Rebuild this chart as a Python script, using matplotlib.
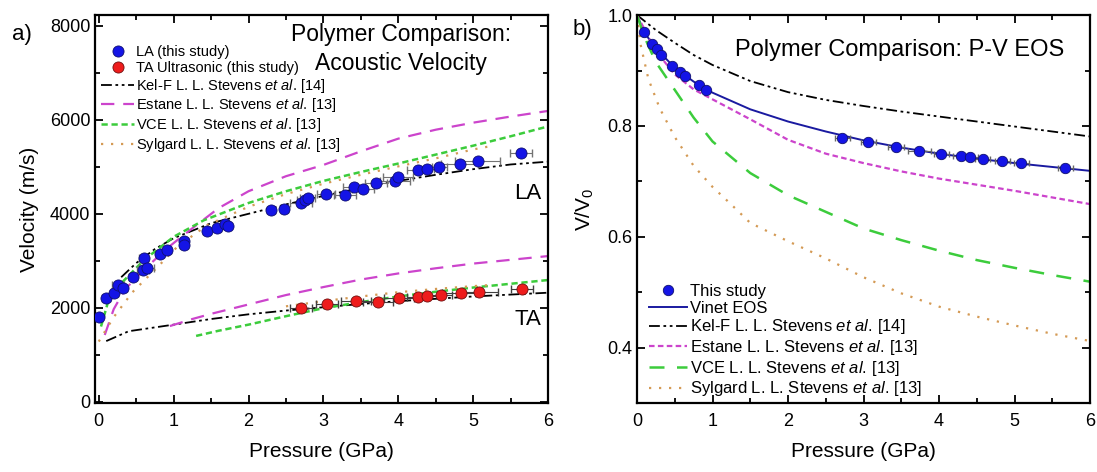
import numpy as np
import matplotlib
matplotlib.use("Agg")
import matplotlib.pyplot as plt
from matplotlib.ticker import MultipleLocator

plt.rcParams['font.family'] = ['Liberation Sans', 'DejaVu Sans']
plt.rcParams['mathtext.fontset'] = 'custom'
plt.rcParams['mathtext.rm'] = 'Liberation Sans'
plt.rcParams['mathtext.it'] = 'Liberation Sans:italic'

###################
# Data (read off) #
###################

# a) acoustic velocity, this study
la_p = [0.0, 0.10, 0.21, 0.26, 0.33, 0.46, 0.59, 0.60, 0.64, 0.82, 0.91, 1.14, 1.14,
        1.44, 1.58, 1.68, 1.72, 2.30, 2.48, 2.70, 2.75, 2.79, 3.04, 3.29, 3.41, 3.53,
        3.70, 3.95, 4.00, 4.26, 4.38, 4.55, 4.82, 5.06, 5.64]
la_v = [1800, 2205, 2310, 2490, 2420, 2650, 2795, 3060, 2845, 3150, 3220, 3430, 3340,
        3640, 3695, 3790, 3745, 4085, 4105, 4240, 4300, 4335, 4420, 4400, 4560, 4530,
        4650, 4690, 4780, 4930, 4945, 4990, 5070, 5130, 5290]
la_perr = [0.03, 0.05, 0.05, 0.08, 0.05, 0.05, 0.08, 0.06, 0.1, 0.05, 0.05, 0.05, 0.05,
           0.05, 0.05, 0.05, 0.05, 0.05, 0.05, 0.15, 0.1, 0.1, 0.12, 0.15, 0.15, 0.15,
           0.15, 0.2, 0.2, 0.15, 0.1, 0.1, 0.25, 0.3, 0.15]

ta_p = [2.70, 3.05, 3.43, 3.73, 4.01, 4.26, 4.39, 4.57, 4.84, 5.08, 5.65]
ta_v = [2000, 2070, 2140, 2130, 2200, 2235, 2255, 2270, 2320, 2340, 2400]
ta_perr = [0.15, 0.15, 0.2, 0.2, 0.2, 0.15, 0.15, 0.15, 0.25, 0.25, 0.15]

# literature curves, velocity (m/s)
kelf_la_p = [0.3, 0.5, 0.75, 1.0, 1.5, 2.0, 2.5, 3.0, 3.5, 4.0, 4.5, 5.0, 5.5, 6.0]
kelf_la_v = [2650, 2950, 3250, 3480, 3800, 4000, 4200, 4380, 4550, 4700, 4830, 4950, 5050, 5110]
kelf_ta_p = [0.1, 0.4, 1.0, 1.5, 2.0, 2.5, 3.0, 3.5, 4.0, 4.5, 5.0, 5.5, 6.0]
kelf_ta_v = [1290, 1500, 1640, 1760, 1860, 1940, 2010, 2080, 2140, 2190, 2240, 2280, 2320]

estane_la_p = [0.08, 0.2, 0.35, 0.6, 0.9, 1.2, 1.6, 2.0, 2.5, 3.0, 3.5, 4.0, 4.5, 5.0, 5.5, 6.0]
estane_la_v = [1420, 1970, 2390, 2800, 3250, 3630, 4120, 4480, 4800, 5040, 5330, 5600, 5790, 5940, 6070, 6190]
estane_ta_p = [0.95, 1.25, 1.5, 2.0, 2.5, 3.0, 3.5, 4.0, 4.5, 5.0, 5.5, 6.0]
estane_ta_v = [1610, 1760, 1870, 2070, 2270, 2440, 2600, 2730, 2840, 2940, 3020, 3100]

vce_la_p = [0.03, 0.12, 0.3, 0.6, 1.0, 1.4, 2.0, 2.5, 3.0, 3.5, 4.0, 4.5, 5.0, 5.5, 6.0]
vce_la_v = [1600, 2100, 2520, 3010, 3510, 3860, 4230, 4480, 4700, 4890, 5070, 5260, 5450, 5650, 5860]
vce_ta_p = [1.3, 1.6, 2.0, 2.5, 3.0, 3.5, 4.0, 4.5, 5.0, 5.5, 6.0]
vce_ta_v = [1400, 1510, 1640, 1820, 1990, 2120, 2240, 2340, 2430, 2510, 2590]

sylgard_la_p = [0.0, 0.2, 0.45, 0.75, 1.05, 1.45, 2.0, 2.5, 3.0, 3.5, 4.0, 4.5, 5.0, 5.2]
sylgard_la_v = [1280, 1800, 2330, 2810, 3300, 3760, 4150, 4420, 4640, 4830, 5010, 5180, 5370, 5430]
sylgard_ta_p = [2.5, 3.0, 3.5, 4.0, 4.5, 5.0, 5.2]
sylgard_ta_v = [2030, 2140, 2240, 2330, 2400, 2460, 2480]

# b) P-V EOS, this study
pv_p = [0.09, 0.20, 0.26, 0.32, 0.46, 0.57, 0.63, 0.82, 0.92, 2.72, 3.06, 3.43, 3.74,
        4.03, 4.29, 4.41, 4.58, 4.84, 5.09, 5.67]
pv_v = [0.970, 0.948, 0.938, 0.928, 0.909, 0.898, 0.891, 0.873, 0.865, 0.778, 0.771,
        0.762, 0.755, 0.750, 0.745, 0.744, 0.740, 0.736, 0.733, 0.724]
pv_perr = [0.02, 0.02, 0.02, 0.02, 0.02, 0.02, 0.02, 0.02, 0.02, 0.1, 0.1, 0.1, 0.15,
           0.1, 0.1, 0.1, 0.1, 0.1, 0.1, 0.1]

vinet_p = [0.0, 0.1, 0.25, 0.5, 0.75, 1.0, 1.5, 2.0, 2.5, 3.0, 3.5, 4.0, 4.5, 5.0, 5.5, 6.0]
vinet_v = [1.0, 0.968, 0.940, 0.905, 0.880, 0.860, 0.830, 0.808, 0.790, 0.774, 0.761,
           0.750, 0.741, 0.733, 0.726, 0.719]

kelf_pv_p = [0.0, 0.25, 0.5, 0.75, 1.0, 1.5, 2.0, 2.5, 3.0, 3.5, 4.0, 4.5, 5.0, 5.5, 6.0]
kelf_pv_v = [1.0, 0.973, 0.950, 0.928, 0.910, 0.881, 0.861, 0.847, 0.836, 0.826, 0.817,
             0.808, 0.799, 0.790, 0.781]
estane_pv_p = [0.0, 0.25, 0.5, 0.75, 1.0, 1.5, 2.0, 2.5, 3.0, 3.5, 4.0, 4.5, 5.0, 5.5, 6.0]
estane_pv_v = [1.0, 0.935, 0.893, 0.866, 0.848, 0.812, 0.775, 0.750, 0.733, 0.718, 0.705,
               0.694, 0.683, 0.671, 0.659]
vce_pv_p = [0.0, 0.1, 0.25, 0.5, 0.75, 1.0, 1.5, 2.0, 2.5, 3.0, 3.5, 4.0, 4.5, 5.0, 5.5, 6.0]
vce_pv_v = [1.0, 0.960, 0.915, 0.865, 0.815, 0.772, 0.715, 0.675, 0.645, 0.615, 0.594,
            0.575, 0.558, 0.544, 0.531, 0.519]
sylgard_pv_p = [0.0, 0.05, 0.15, 0.3, 0.5, 0.75, 1.0, 1.25, 1.5, 2.0, 2.5, 3.0, 3.5, 4.0,
                4.5, 5.0, 5.5, 6.0]
sylgard_pv_v = [1.0, 0.945, 0.885, 0.832, 0.780, 0.728, 0.690, 0.658, 0.625, 0.592, 0.561,
                0.527, 0.498, 0.474, 0.456, 0.440, 0.425, 0.412]

#########
# Style #
#########
c_blue = '#1414e6'
c_red = '#ee1c1c'
c_vinet = '#1a1aa0'
c_mag = '#cc44cc'
c_green = '#3ccc3c'
c_orange = '#d49a55'
ls_kelf = (0, (6, 2, 1.5, 2, 1.5, 2))
ls_long = (0, (6, 4))
ls_short = (0, (2.5, 1.5))
ls_dot = (0, (1, 3.5))

kelf_lab = r'Kel-F L. L. Stevens $\mathit{et\ al.}\,$[14]'
estane_lab = r'Estane L. L. Stevens $\mathit{et\ al.}\,$[13]'
vce_lab = r'VCE L. L. Stevens $\mathit{et\ al.}\,$[13]'
sylgard_lab = r'Sylgard L. L. Stevens $\mathit{et\ al.}\,$[13]'

fig = plt.figure(figsize=(10.97, 4.72), dpi=100)
ax1 = fig.add_axes([0.0866, 0.146, 0.413, 0.822])
ax2 = fig.add_axes([0.5807, 0.146, 0.413, 0.822])


def style_axes(ax):
    for s in ax.spines.values():
        s.set_linewidth(1.6)
    ax.tick_params(which='both', direction='in', top=True, right=True, labelsize=13,
                   width=1.3)
    ax.tick_params(which='major', length=6)
    ax.tick_params(which='minor', length=3.5)
    ax.tick_params(axis='x', pad=7)


##################
# a) velocities  #
##################
ax = ax1
ax.plot(kelf_la_p, kelf_la_v, color='k', ls=ls_kelf, lw=1.3)
ax.plot(kelf_ta_p, kelf_ta_v, color='k', ls=ls_kelf, lw=1.3)
ax.plot(estane_la_p, estane_la_v, color=c_mag, ls=ls_long, lw=1.6)
ax.plot(estane_ta_p, estane_ta_v, color=c_mag, ls=ls_long, lw=1.6)
ax.plot(vce_la_p, vce_la_v, color=c_green, ls=ls_short, lw=1.8)
ax.plot(vce_ta_p, vce_ta_v, color=c_green, ls=ls_short, lw=1.8)
ax.plot(sylgard_la_p, sylgard_la_v, color=c_orange, ls=ls_dot, lw=1.6)
ax.plot(sylgard_ta_p, sylgard_ta_v, color=c_orange, ls=ls_dot, lw=1.6)

ax.errorbar(la_p, la_v, xerr=la_perr, fmt='none', ecolor='0.45', elinewidth=0.8, capsize=3)
ax.errorbar(ta_p, ta_v, xerr=ta_perr, fmt='none', ecolor='0.25', elinewidth=0.8, capsize=3)
h_la, = ax.plot(la_p, la_v, 'o', color=c_blue, mec='#101070', mew=0.6, ms=8, zorder=5)
h_ta, = ax.plot(ta_p, ta_v, 'o', color=c_red, mec='#701010', mew=0.6, ms=8, zorder=5)

h_k, = ax.plot([], [], color='k', ls=ls_kelf, lw=1.3)
h_e, = ax.plot([], [], color=c_mag, ls=ls_long, lw=1.6)
h_v, = ax.plot([], [], color=c_green, ls=ls_short, lw=1.8)
h_s, = ax.plot([], [], color=c_orange, ls=ls_dot, lw=1.6)
ax.legend([h_la, h_ta, h_k, h_e, h_v, h_s],
          ['LA (this study)', 'TA Ultrasonic (this study)', kelf_lab, estane_lab, vce_lab,
           sylgard_lab],
          loc='upper left', bbox_to_anchor=(-0.005, 0.945), frameon=False, fontsize=10.5,
          handlelength=2.2, handletextpad=0.2, labelspacing=0.12, borderaxespad=0.2)

ax.set_xlim(-0.05, 6.0)
ax.set_ylim(-30, 8230)
ax.xaxis.set_major_locator(MultipleLocator(1))
ax.xaxis.set_minor_locator(MultipleLocator(0.5))
ax.yaxis.set_major_locator(MultipleLocator(2000))
ax.yaxis.set_minor_locator(MultipleLocator(1000))
style_axes(ax)
ax.set_xlabel('Pressure (GPa)', fontsize=15, labelpad=9)
ax.set_ylabel('Velocity (m/s)', fontsize=15, labelpad=8)
ax.text(0.675, 0.98, 'Polymer Comparison:\nAcoustic Velocity', transform=ax.transAxes,
        ha='center', va='top', fontsize=16.5, linespacing=1.35)
ax.text(0.985, 0.54, 'LA', transform=ax.transAxes, ha='right', va='center', fontsize=16)
ax.text(0.985, 0.215, 'TA', transform=ax.transAxes, ha='right', va='center', fontsize=16)
fig.text(0.011, 0.915, 'a)', fontsize=16)

##################
# b) P-V EOS     #
##################
ax = ax2
h_vi, = ax.plot(vinet_p, vinet_v, color=c_vinet, lw=1.4)
h_k2, = ax.plot(kelf_pv_p, kelf_pv_v, color='k', ls=ls_kelf, lw=1.3)
h_e2, = ax.plot(estane_pv_p, estane_pv_v, color=c_mag, ls=ls_short, lw=1.6)
h_v2, = ax.plot(vce_pv_p, vce_pv_v, color=c_green, ls=(0, (6, 5)), lw=1.8)
h_s2, = ax.plot(sylgard_pv_p, sylgard_pv_v, color=c_orange, ls=ls_dot, lw=1.6)
ax.errorbar(pv_p, pv_v, xerr=pv_perr, fmt='none', ecolor='0.4', elinewidth=0.8, capsize=2)
h_pv, = ax.plot(pv_p, pv_v, 'o', color=c_blue, mec='#101070', mew=0.6, ms=7.5, zorder=5)

ax.legend([h_pv, h_vi, h_k2, h_e2, h_v2, h_s2],
          ['This study', 'Vinet EOS', kelf_lab, estane_lab, vce_lab, sylgard_lab],
          loc='lower left', bbox_to_anchor=(0.0, -0.018), frameon=False, fontsize=12,
          handlelength=2.3, handletextpad=0.2, labelspacing=0.1, borderaxespad=0.3)

ax.set_xlim(0, 6)
ax.set_ylim(0.3, 1.0)
ax.xaxis.set_major_locator(MultipleLocator(1))
ax.xaxis.set_minor_locator(MultipleLocator(0.5))
ax.yaxis.set_major_locator(MultipleLocator(0.2))
ax.yaxis.set_minor_locator(MultipleLocator(0.1))
ax.set_yticks([0.4, 0.6, 0.8, 1.0])
style_axes(ax)
ax.set_xlabel('Pressure (GPa)', fontsize=15, labelpad=9)
ax.set_ylabel(r'V/V$_\mathrm{0}$', fontsize=15, labelpad=8)
ax.text(0.58, 0.91, 'Polymer Comparison: P-V EOS', transform=ax.transAxes,
        ha='center', va='center', fontsize=17)
fig.text(0.522, 0.925, 'b)', fontsize=16)

fig.savefig('out.png', dpi=100)
